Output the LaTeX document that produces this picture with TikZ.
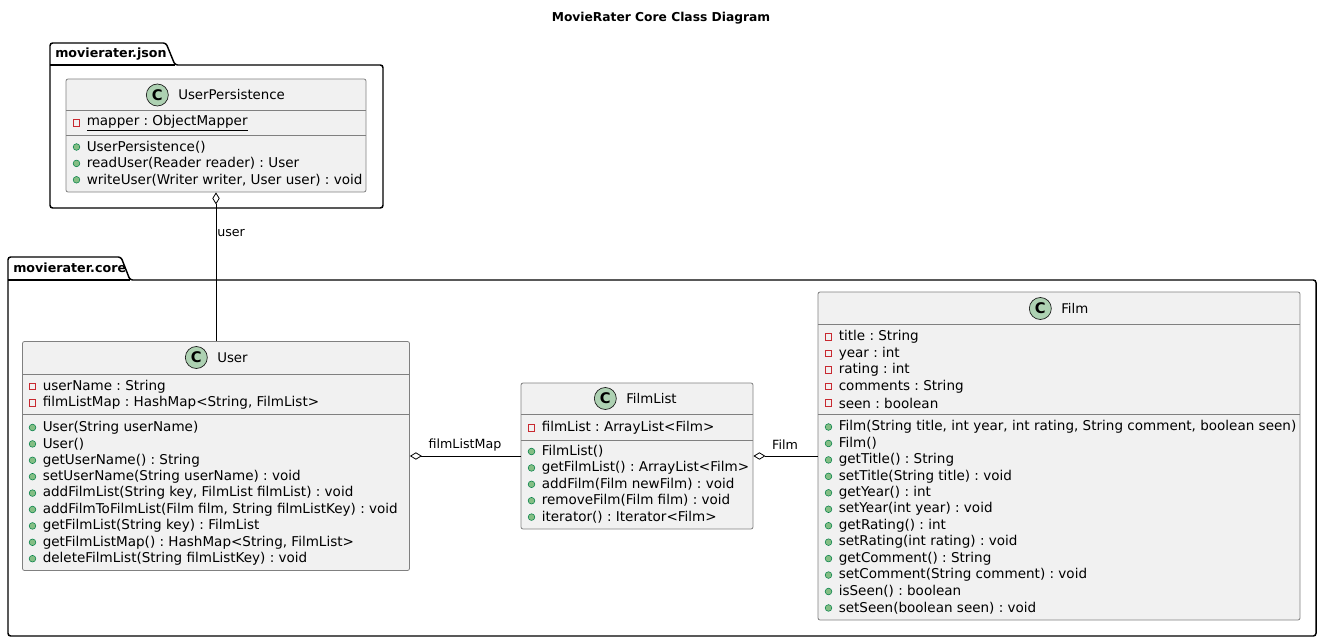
\documentclass[tikz,border=0pt]{standalone}
\usepackage{fontspec}
\setmainfont{DejaVu Sans}
\usetikzlibrary{arrows.meta}
\usetikzlibrary{positioning}
\frenchspacing

\definecolor{classbg}{HTML}{F1F1F1}
\definecolor{classline}{HTML}{181818}
\definecolor{iconbg}{HTML}{ADD1B2}
\definecolor{privred}{HTML}{C82930}
\definecolor{pubfill}{HTML}{84BE84}
\definecolor{publine}{HTML}{038048}

\tikzset{
  umlclass/.style={draw=classline!55, fill=classbg, line width=0.6pt, rounded corners=1.5pt, inner sep=0pt},
  sepline/.style={draw=classline!55, line width=0.6pt},
  icon/.style={circle, draw=classline, fill=iconbg, line width=0.5pt, minimum size=16.5pt, inner sep=0pt, font=\bfseries\fontsize{11}{11}\selectfont},
  classname/.style={anchor=west, inner sep=0pt, font=\fontsize{10}{12}\selectfont},
  member/.style={anchor=west, inner sep=0pt, font=\fontsize{10.15}{12}\selectfont},
  privmark/.style={rectangle, draw=privred, line width=0.6pt, minimum size=4.8pt, inner sep=0pt},
  pubmark/.style={circle, draw=publine, fill=pubfill, line width=0.4pt, minimum size=5pt, inner sep=0pt},
  pkg/.style={draw=black, line width=1.1pt, rounded corners=2pt},
  pkgname/.style={anchor=west, inner sep=0pt, font=\bfseries\fontsize{9.5}{12}\selectfont},
  agg/.style={{Diamond[open, fill=white, length=9pt, width=5.5pt]}-, line width=0.6pt},
  assoclabel/.style={inner sep=0pt, font=\fontsize{9.5}{11}\selectfont}
}

% rows of a class box: left edge, y, text
\newcommand{\privrow}[3]{%
  \node[privmark] at (#1+10.5,#2) {};
  \node[member] at (#1+20.5,#2) {#3};}
\newcommand{\pubrow}[3]{%
  \node[pubmark] at (#1+10.5,#2) {};
  \node[member] at (#1+20.5,#2) {#3};}

\begin{document}
\begin{tikzpicture}[x=0.75pt, y=-0.75pt, node distance=15.5pt]
\useasboundingbox (0,0) rectangle (1323,642);

\node[font=\bfseries\fontsize{9.2}{12}\selectfont] (title) at (661,18) {MovieRater Core Class Diagram};

% packages
\draw[pkg] (50,208) -- (50,43) -- (166,43) -- (175,65) -- (383,65) -- (383,208) -- cycle;
\draw[line width=1.1pt] (50,65) -- (175,65);
\node[pkgname] (jsonpkg) at (55,54) {movierater.json};

\draw[pkg] (8,636) -- (8,257) -- (121,257) -- (130,280) -- (1316,280) -- (1316,636) -- cycle;
\draw[line width=1.1pt] (8,280) -- (130,280);
\node[pkgname] (corepkg) at (13,268) {movierater.core};

% UserPersistence
\node[umlclass, minimum width=225pt, minimum height=84.75pt] (persist) at (216,135.5) {};
\node[classname] (persist-t) at (178,95) {UserPersistence};
\node[icon, left=of persist-t.west, anchor=center] {C};
\draw[sepline] (66,110.5) -- (366,110.5);
\draw[sepline] (66,135) -- (366,135);
\privrow{66}{123}{\underline{mapper : ObjectMapper}}
\foreach \txt [count=\i from 0] in {{UserPersistence()}, {readUser(Reader reader) : User}, {writeUser(Writer writer, User user) : void}} {
  \pubrow{66}{147+16.4*\i}{\txt}
}

% User
\node[umlclass, minimum width=290.25pt, minimum height=171.75pt] (user) at (216,456) {};
\node[classname] (user-t) at (217,357.5) {User};
\node[icon, left=of user-t.west, anchor=center] {C};
\draw[sepline] (22.5,374) -- (409.5,374);
\draw[sepline] (22.5,414) -- (409.5,414);
\foreach \txt [count=\i from 0] in {{userName : String}, {filmListMap : HashMap<String, FilmList>}} {
  \privrow{22}{386.5+16.4*\i}{\txt}
}
\foreach \txt [count=\i from 0] in {{User(String userName)}, {User()}, {getUserName() : String},
    {setUserName(String userName) : void}, {addFilmList(String key, FilmList filmList) : void},
    {addFilmToFilmList(Film film, String filmListKey) : void}, {getFilmList(String key) : FilmList},
    {getFilmListMap() : HashMap<String, FilmList>}, {deleteFilmList(String filmListKey) : void}} {
  \pubrow{22}{427.5+16.4*\i}{\txt}
}

% FilmList
\node[umlclass, minimum width=174pt, minimum height=109.5pt] (filmlist) at (637,456) {};
\node[classname] (filmlist-t) at (626,398.5) {FilmList};
\node[icon, left=of filmlist-t.west, anchor=center] {C};
\draw[sepline] (521,414) -- (753,414);
\draw[sepline] (521,440) -- (753,440);
\privrow{521}{428}{filmList : ArrayList<Film>}
\foreach \txt [count=\i from 0] in {{FilmList()}, {getFilmList() : ArrayList<Film>}, {addFilm(Film newFilm) : void},
    {removeFilm(Film film) : void}, {iterator() : Iterator<Film>}} {
  \pubrow{521}{451.5+16.4*\i}{\txt}
}

% Film
\node[umlclass, minimum width=361.5pt, minimum height=246pt] (film) at (1059,456) {};
\node[classname] (film-t) at (1061,308.5) {Film};
\node[icon, left=of film-t.west, anchor=center] {C};
\draw[sepline] (818,324.5) -- (1300,324.5);
\draw[sepline] (818,414.5) -- (1300,414.5);
\foreach \txt [count=\i from 0] in {{title : String}, {year : int}, {rating : int}, {comments : String}, {seen : boolean}} {
  \privrow{818}{337+16.5*\i}{\txt}
}
\foreach \txt [count=\i from 0] in {{Film(String title, int year, int rating, String comment, boolean seen)}, {Film()},
    {getTitle() : String}, {setTitle(String title) : void}, {getYear() : int}, {setYear(int year) : void},
    {getRating() : int}, {setRating(int rating) : void}, {getComment() : String},
    {setComment(String comment) : void}, {isSeen() : boolean}, {setSeen(boolean seen) : void}} {
  \pubrow{818}{427+16.45*\i}{\txt}
}

% associations
\draw[agg] (persist.south) -- (user.north);
\node[assoclabel, anchor=west] (user-l) at (217,233) {user};
\draw[agg] (user.east) -- (filmlist.west);
\node[assoclabel] (map-l) at (465,445) {filmListMap};
\draw[agg] (filmlist.east) -- (film.west);
\node[assoclabel] (film-l) at (785,445) {Film};
\end{tikzpicture}
\end{document}
